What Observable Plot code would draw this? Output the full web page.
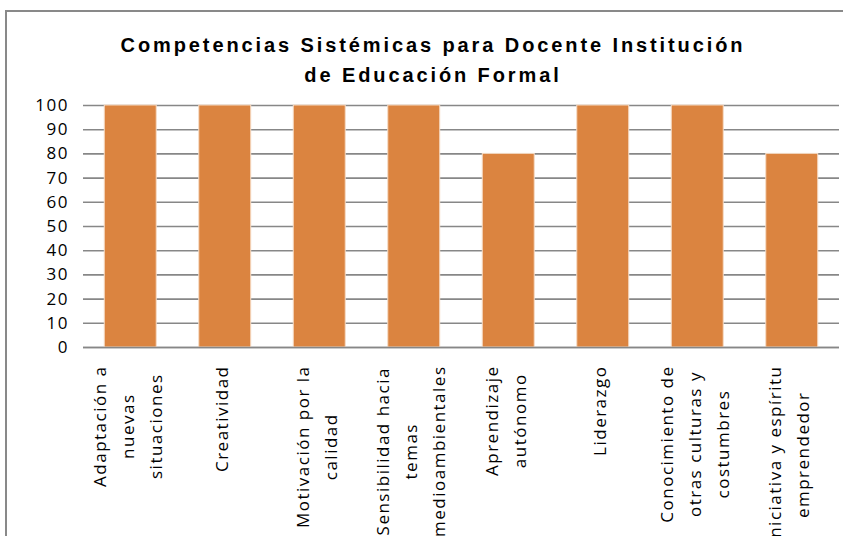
<!DOCTYPE html>
<html><head><meta charset="utf-8">
<script src="https://cdn.jsdelivr.net/npm/d3@7"></script>
<script src="https://cdn.jsdelivr.net/npm/@observablehq/plot@0.6"></script>
<style>
html,body{margin:0;padding:0;width:843px;height:536px;overflow:hidden;background:#fff;}
#frame{position:absolute;left:5px;top:10px;width:900px;height:600px;border-left:2px solid #898989;border-top:2px solid #898989;}
#title{position:absolute;left:0;top:30px;width:866px;text-align:center;font-family:"Liberation Sans",sans-serif;font-weight:bold;font-size:20px;letter-spacing:2.9px;line-height:30px;color:#000;}
#chart{position:absolute;left:0;top:90px;}
#chart svg text{letter-spacing:1.5px;}
</style></head><body>
<div id="frame"></div>
<div id="title">Competencias Sistémicas para Docente Institución<br>de Educación Formal</div>
<div id="chart"></div>
<script>
const categories = ["Adaptación a nuevas situaciones","Creatividad","Motivación por la calidad","Sensibilidad hacia temas medioambientales","Aprendizaje autónomo","Liderazgo","Conocimiento de otras culturas y costumbres","Iniciativa y espíritu emprendedor"];
const labelLines = [["Adaptación a","nuevas","situaciones"],["Creatividad"],["Motivación por la","calidad"],["Sensibilidad hacia","temas","medioambientales"],["Aprendizaje","autónomo"],["Liderazgo"],["Conocimiento de","otras culturas y","costumbres"],["Iniciativa y espíritu","emprendedor"]];
const values = [100,100,100,100,80,100,100,80];
const yTicks = [0,10,20,30,40,50,60,70,80,90,100];

const FONT = "Open Sans";
const LABEL_SIZE = 17;
const SPACING = 1.5;
const data = categories.map((c,i)=>({category:c, value:values[i], text:labelLines[i].join("\n"), lines:labelLines[i]}));

const ctx = document.createElement("canvas").getContext("2d");
ctx.font = `${LABEL_SIZE}px "${FONT}"`;
const blockLen = lines => d3.max(lines, s => ctx.measureText(s).width + SPACING * s.length);

const gridColor = "#878787";
const chart = Plot.plot({
  width: 843,
  height: 446,
  marginTop: 15,
  marginBottom: 189,
  marginLeft: 83,
  marginRight: 4,
  style: {fontFamily: FONT, color: "#000", background: "transparent", overflow: "visible"},
  x: {domain: categories, paddingInner: 0.45, paddingOuter: 0.225, round: false, axis: null},
  y: {domain: [0,100], label: null},
  marks: [
    Plot.ruleY(yTicks, {stroke: gridColor, strokeWidth: 1.6}),
    Plot.barY(data, {x: "category", y: "value", fill: "#db8440", stroke: "#f6dcc6", strokeWidth: 1}),
    Plot.ruleY([0], {stroke: gridColor, strokeWidth: 1.6}),
    Plot.axisY({ticks: yTicks, tickSize: 0, tickPadding: 14.5, fontSize: 17, fontFamily: FONT, fill: "#000", label: null}),
    ...data.map(d => Plot.text([d], {
      x: "category", text: "text", frameAnchor: "bottom", rotate: -90,
      textAnchor: "middle", lineAnchor: "middle", lineHeight: 1.65,
      fontSize: LABEL_SIZE, fontFamily: FONT, fill: "#000",
      dx: -6,
      dy: 18 + blockLen(d.lines) / 2
    }))
  ]
});
document.getElementById("chart").appendChild(chart);
</script>
</body></html>
